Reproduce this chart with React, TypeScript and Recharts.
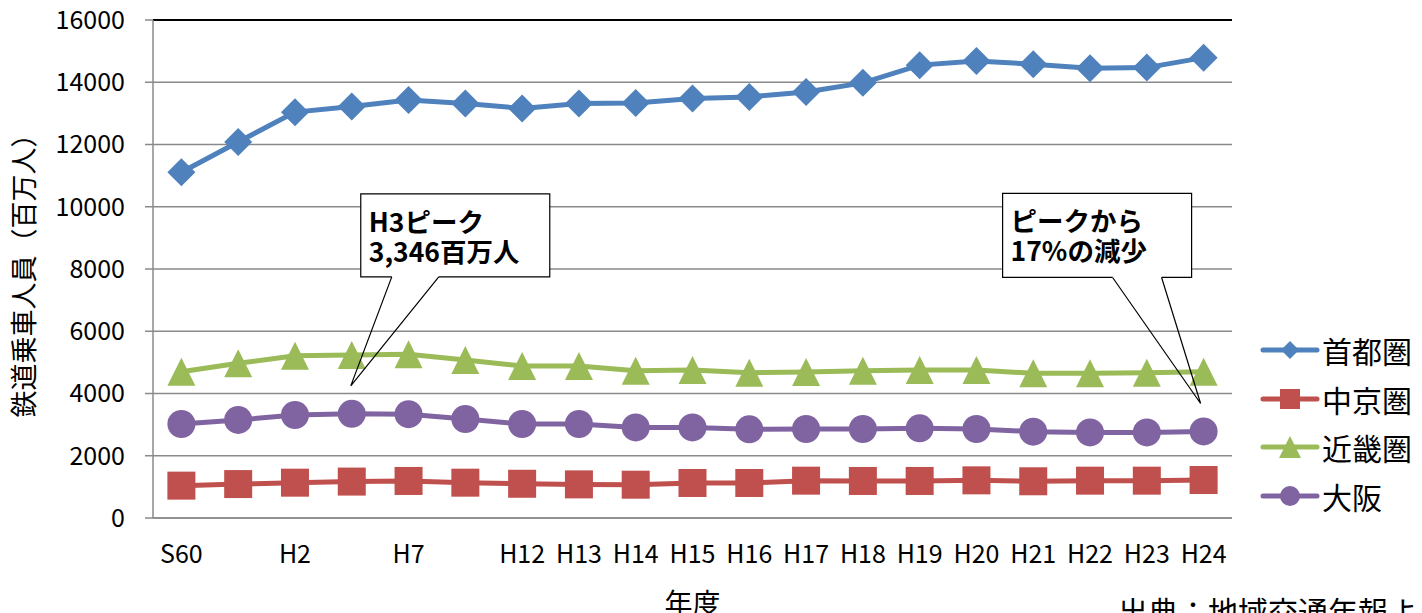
import { LineChart, Line, XAxis, YAxis, CartesianGrid, ReferenceLine, ReferenceDot } from "recharts";

const FONT = '"Noto Sans CJK JP", "Noto Sans", sans-serif';

// 年度 (blank labels are years that have a point but no tick text)
const years = ["S60", "", "H2", "", "H7", "", "H12", "H13", "H14", "H15", "H16", "H17", "H18", "H19", "H20", "H21", "H22", "H23", "H24"];

// 鉄道乗車人員（百万人）
const shutoken = [11110, 12080, 13040, 13220, 13430, 13320, 13160, 13320, 13330, 13480, 13530, 13690, 13980, 14550, 14680, 14580, 14450, 14470, 14790];
const chukyo = [1040, 1090, 1135, 1170, 1190, 1135, 1100, 1080, 1070, 1125, 1125, 1200, 1190, 1190, 1210, 1180, 1200, 1200, 1220];
const kinki = [4700, 4970, 5215, 5240, 5260, 5075, 4880, 4880, 4730, 4755, 4670, 4690, 4730, 4755, 4755, 4650, 4650, 4670, 4700];
const osaka = [3020, 3150, 3310, 3346, 3335, 3180, 3020, 3020, 2910, 2910, 2850, 2860, 2860, 2880, 2860, 2775, 2750, 2750, 2780];

const yTicks = [0, 2000, 4000, 6000, 8000, 10000, 12000, 14000, 16000];

const data = years.map((y, i) => ({
  i,
  shutoken: shutoken[i],
  chukyo: chukyo[i],
  kinki: kinki[i],
  osaka: osaka[i],
}));

// category boundaries for the Excel-style tick marks
const edgeTicks = [...years.map((_, i) => i), years.length];

const PLOT_W = 1079;
const HALF_BAND = PLOT_W / years.length / 2;

const BLUE = "#4F81BD";
const RED = "#C0504D";
const GREEN = "#9BBB59";
const PURPLE = "#8064A2";

type Shape = "diamond" | "square" | "triangle" | "circle";

function marker(shape: Shape, cx: number, cy: number, color: string, s: number, key?: any) {
  if (shape === "diamond")
    return <polygon key={key} points={`${cx},${cy - s} ${cx + s},${cy} ${cx},${cy + s} ${cx - s},${cy}`} fill={color} />;
  if (shape === "square")
    return <rect key={key} x={cx - s} y={cy - s} width={s * 2} height={s * 2} fill={color} />;
  if (shape === "triangle")
    return <polygon key={key} points={`${cx},${cy - s} ${cx + s},${cy + s} ${cx - s},${cy + s}`} fill={color} />;
  return <circle key={key} cx={cx} cy={cy} r={s} fill={color} />;
}

const dotOf = (shape: Shape, color: string, s: number) => (p: any) =>
  marker(shape, p.cx, p.cy, color, s, `${shape}-${p.index}`);

const series = [
  { key: "shutoken", name: "首都圏", color: BLUE, shape: "diamond" as Shape, size: 14 },
  { key: "chukyo", name: "中京圏", color: RED, shape: "square" as Shape, size: 14 },
  { key: "kinki", name: "近畿圏", color: GREEN, shape: "triangle" as Shape, size: 14 },
  { key: "osaka", name: "大阪", color: PURPLE, shape: "circle" as Shape, size: 14 },
];

const legendSize: Record<Shape, number> = { diamond: 9, square: 10, triangle: 11, circle: 10 };

function LegendBox() {
  return (
    <div style={{ position: "absolute", left: 1260, top: 326, fontFamily: FONT }}>
      {series.map((s) => (
        <div key={s.key} style={{ display: "flex", alignItems: "center", height: 48.5 }}>
          <svg width={62} height={30}>
            <line x1={3} y1={15} x2={57} y2={15} stroke={s.color} strokeWidth={5} strokeLinecap="round" />
            {marker(s.shape, 30, 15, s.color, legendSize[s.shape])}
          </svg>
          <span style={{ fontSize: 30, lineHeight: "30px", color: "#000" }}>{s.name}</span>
        </div>
      ))}
    </div>
  );
}

// speech-bubble note: box offsets are relative to the pointer tip
function callout(lines: string[], box: { l: number; t: number; r: number; b: number; p1: number; p2: number }, tipDx: number) {
  return (p: any) => {
    const tx = p.cx + tipDx;
    const ty = p.cy - 28;
    const L = tx + box.l, R = tx + box.r, T = ty + box.t, B = ty + box.b;
    return (
      <g>
        <rect x={L} y={T} width={R - L} height={B - T} fill="#fff" stroke="none" />
        <path
          d={`M${tx + box.p1},${B} L${L},${B} L${L},${T} L${R},${T} L${R},${B} L${tx + box.p2},${B}`}
          fill="none"
          stroke="#000"
          strokeWidth={1.2}
        />
        <path d={`M${tx + box.p1},${B} L${tx},${ty} L${tx + box.p2},${B}`} fill="none" stroke="#000" strokeWidth={1.2} />
        {lines.map((t, k) => (
          <text key={k} x={L + 8} y={T + 38 + k * 30} fontFamily={FONT} fontSize={26.5} fontWeight={700} fill="#000">
            {t}
          </text>
        ))}
      </g>
    );
  };
}

export default function App() {
  return (
    <div style={{ position: "absolute", left: 0, top: 0, width: 1422, height: 613, background: "#fff", overflow: "hidden" }}>
      <LineChart width={1422} height={613} data={data} margin={{ top: 20, right: 190, bottom: 0, left: 0 }}>
        <CartesianGrid horizontal vertical={false} stroke="#8a8a8a" strokeWidth={1.5} />
        <XAxis
          xAxisId="edge"
          type="number"
          domain={[0, 19]}
          allowDataOverflow
          ticks={edgeTicks}
          tick={false}
          axisLine={false}
          tickLine={{ stroke: "#8a8a8a", strokeWidth: 1.5 }}
          tickSize={9}
          height={0}
        />
        <XAxis
          dataKey="i"
          type="category"
          height={95}
          interval={0}
          padding={{ left: HALF_BAND, right: HALF_BAND }}
          tickLine={false}
          tickSize={6}
          tickMargin={21}
          axisLine={{ stroke: "#8a8a8a", strokeWidth: 1.5 }}
          tickFormatter={(v: number) => years[v]}
          tick={{ fontFamily: FONT, fontSize: 25, fill: "#000" }}
          label={{
            content: (p: any) => {
              const vb = p.viewBox;
              return (
                <g fontFamily={FONT} fill="#000">
                  <text x={vb.x + vb.width / 2} y={614} textAnchor="middle" fontSize={28}>年度</text>
                  <text x={1118} y={623} fontSize={30}>出典：地域交通年報より</text>
                </g>
              );
            },
          }}
        />
        <YAxis
          width={153}
          domain={[0, 16000]}
          ticks={yTicks}
          interval={0}
          tickSize={8}
          tickMargin={20}
          axisLine={{ stroke: "#8a8a8a", strokeWidth: 1.5 }}
          tickLine={{ stroke: "#8a8a8a", strokeWidth: 1.5 }}
          tick={{ fontFamily: FONT, fontSize: 25, fill: "#000" }}
          label={{
            content: (p: any) => {
              const cx = 22;
              const cy = p.viewBox.y + p.viewBox.height / 2;
              return (
                <text x={cx} y={cy} transform={`rotate(-90 ${cx} ${cy})`} textAnchor="middle" dominantBaseline="central" fontFamily={FONT} fontSize={27} fill="#000">
                  鉄道乗車人員（百万人）
                </text>
              );
            },
          }}
        />
        <ReferenceLine y={16000} stroke="#000" strokeWidth={2} />
        <ReferenceLine xAxisId="edge" x={19} stroke="#000" strokeWidth={2} />
        {series.map((s) => (
          <Line
            key={s.key}
            dataKey={s.key}
            name={s.name}
            stroke={s.color}
            strokeWidth={5}
            dot={dotOf(s.shape, s.color, s.size)}
            activeDot={false}
            isAnimationActive={false}
          />
        ))}
        <ReferenceDot
          x={3}
          y={osaka[3]}
          r={0}
          shape={callout(["H3ピーク", "3,346百万人"], { l: 10, t: -192, r: 199, b: -109, p1: 41, p2: 88 }, -1)}
        />
        <ReferenceDot
          x={18}
          y={osaka[18]}
          r={0}
          shape={callout(["ピークから", "17%の減少"], { l: -198, t: -210, r: -9, b: -126, p1: -88, p2: -39 }, -3)}
        />
      </LineChart>
      <LegendBox />
    </div>
  );
}
